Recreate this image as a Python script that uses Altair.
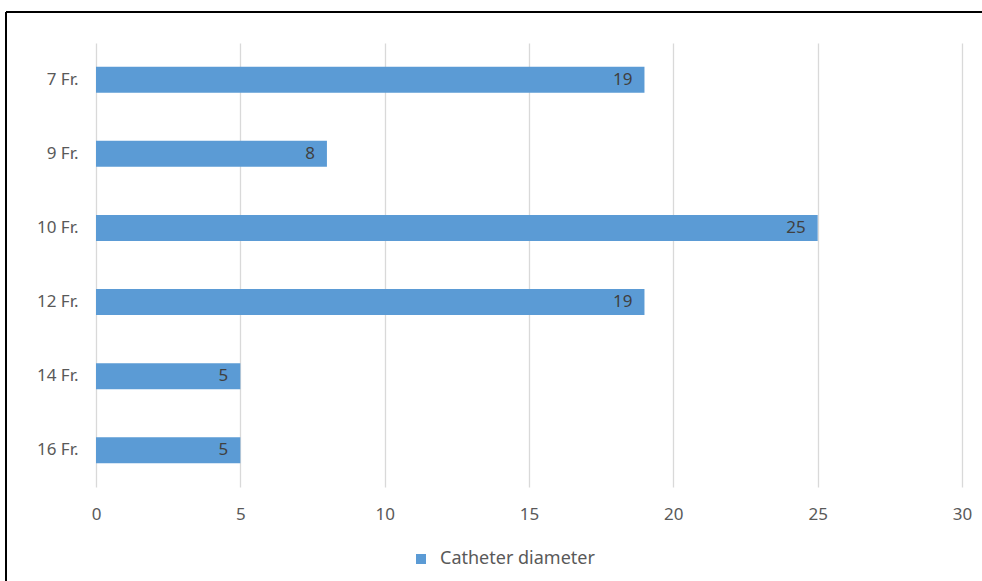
import altair as alt
import pandas as pd

categories = ["7 Fr.", "9 Fr.", "10 Fr.", "12 Fr.", "14 Fr.", "16 Fr."]
values = [19, 8, 25, 19, 5, 5]
series_name = "Catheter diameter"
x_ticks = [0, 5, 10, 15, 20, 25, 30]

df = pd.DataFrame({"cat": categories, "val": values, "series": [series_name] * len(categories)})

FONT = "Noto Sans"
BLUE = "#5B9BD5"

y_enc = alt.Y("cat:N", sort=categories, title=None,
              scale=alt.Scale(paddingInner=0.65, paddingOuter=0.32),
              axis=alt.Axis(domain=False, ticks=False, labelPadding=18, labelFontSize=17,
                            labelColor="#595959", labelFont=FONT, grid=False))
x_enc = alt.X("val:Q", title=None, scale=alt.Scale(domain=[0, 30], nice=False),
              axis=alt.Axis(values=x_ticks, domain=False, ticks=False, grid=True,
                            gridColor="#D9D9D9", gridWidth=1.3, labelPadding=19,
                            labelFlush=False,
                            labelFontSize=17, labelColor="#595959", labelFont=FONT))

bars = alt.Chart(df).mark_bar(color=BLUE).encode(
    x=x_enc, y=y_enc,
    color=alt.Color("series:N", scale=alt.Scale(range=[BLUE]),
                    legend=alt.Legend(title=None, orient="none", legendX=316, legendY=507,
                                      symbolType="square", symbolSize=100, labelFontSize=18,
                                      labelOffset=10,
                                      labelColor="#595959", labelFont=FONT, symbolOpacity=1,
                                      symbolStrokeWidth=0))
)

labels = alt.Chart(df).mark_text(align="right", baseline="middle", dx=-12, fontSize=17,
                                 color="#404040", font=FONT).encode(
    x=alt.X("val:Q"), y=alt.Y("cat:N", sort=categories), text="val:Q")

top_border = alt.Chart(df).mark_rule(color="black", strokeWidth=2).encode(
    x=alt.value(-90), x2=alt.value(900), y=alt.value(-31))
left_border = alt.Chart(df).mark_rule(color="black", strokeWidth=2).encode(
    x=alt.value(-90), y=alt.value(-31), y2=alt.value(560))

chart = alt.layer(bars, labels, top_border, left_border).properties(
    width=866, height=444,
    autosize=alt.AutoSizeParams(type="none"),
    padding={"left": 96, "top": 43, "right": 20, "bottom": 94},
    background="white",
).configure_view(stroke=None)

chart.save("out.html", embed_options={"renderer": "svg", "actions": False})
